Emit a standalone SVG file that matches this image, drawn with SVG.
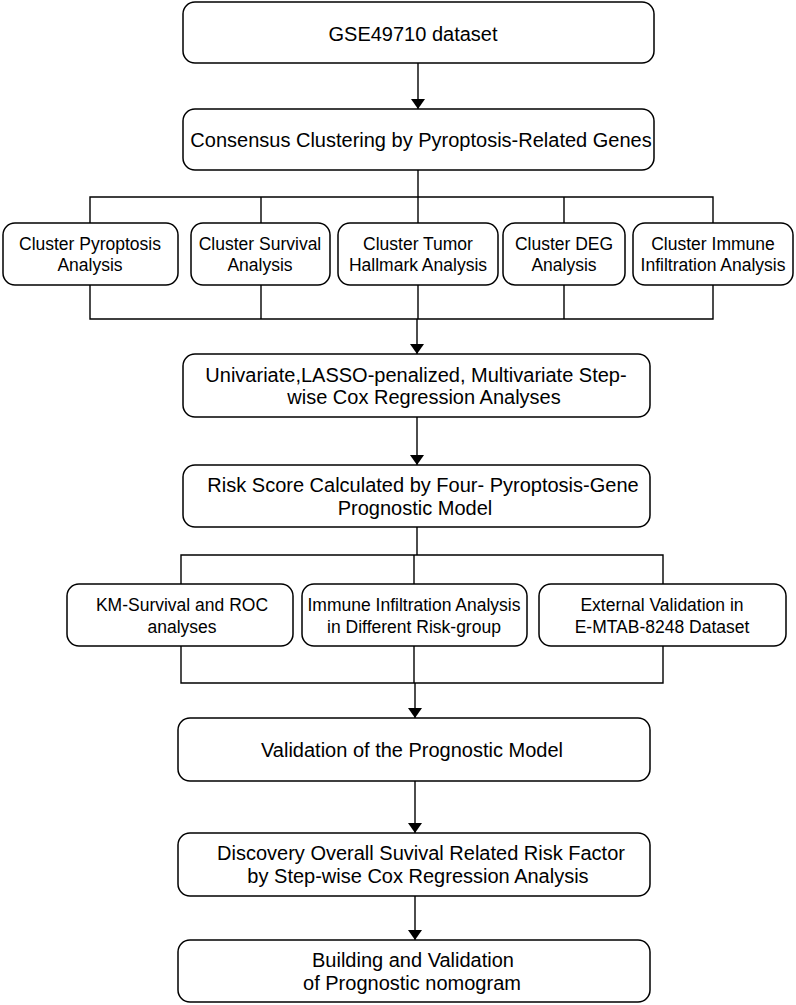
<svg xmlns="http://www.w3.org/2000/svg" width="796" height="1005" viewBox="0 0 796 1005">
<defs>
<marker id="arr" markerWidth="10" markerHeight="14" refX="10" refY="5" orient="auto" markerUnits="userSpaceOnUse" viewBox="0 0 10 10" preserveAspectRatio="none">
<path d="M0,0 L10,5 L0,10 Z" fill="#000"/>
</marker>
<style>
.box{fill:#fff;stroke:#000;stroke-width:1.5}
.t{font-family:"Liberation Sans",Arial,sans-serif;font-size:20px;fill:#000;text-anchor:middle}
.s{font-family:"Liberation Sans",Arial,sans-serif;font-size:17.5px;fill:#000;text-anchor:middle}
.c{fill:none;stroke:#000;stroke-width:1.4}
</style>
</defs>
<rect width="796" height="1005" fill="#fff"/>
<g id="connectors">
<line class="c" x1="418" y1="63" x2="418" y2="109" marker-end="url(#arr)"/>
<line class="c" x1="418" y1="170" x2="418" y2="223"/>
<polyline class="c" points="90,223 90,197 713,197 713,223"/>
<line class="c" x1="261" y1="197" x2="261" y2="223"/>
<line class="c" x1="564" y1="197" x2="564" y2="223"/>
<polyline class="c" points="90,285 90,319 713,319 713,285"/>
<line class="c" x1="261" y1="285" x2="261" y2="319"/>
<line class="c" x1="418" y1="285" x2="418" y2="319"/>
<line class="c" x1="564" y1="285" x2="564" y2="319"/>
<line class="c" x1="417" y1="319" x2="417" y2="354" marker-end="url(#arr)"/>
<line class="c" x1="417" y1="417" x2="417" y2="465" marker-end="url(#arr)"/>
<line class="c" x1="417" y1="527" x2="417" y2="555"/>
<polyline class="c" points="181,584 181,555 663,555 663,584"/>
<line class="c" x1="414" y1="555" x2="414" y2="584"/>
<polyline class="c" points="181,646 181,683 663,683 663,646"/>
<line class="c" x1="414" y1="646" x2="414" y2="683"/>
<line class="c" x1="415" y1="683" x2="415" y2="718" marker-end="url(#arr)"/>
<line class="c" x1="415" y1="781" x2="415" y2="833" marker-end="url(#arr)"/>
<line class="c" x1="415" y1="896" x2="415" y2="940" marker-end="url(#arr)"/>
</g>
<g id="n1"><rect class="box" x="183" y="2" width="471" height="61" rx="12"/><text class="t" x="413" y="41">GSE49710 dataset</text></g>
<g id="n2"><rect class="box" x="183" y="109" width="471" height="61" rx="12"/><text class="t" x="421" y="147">Consensus Clustering by Pyroptosis-Related Genes</text></g>
<g id="c1"><rect class="box" x="3" y="223" width="175" height="62" rx="12"/><text class="s" x="90" y="250">Cluster Pyroptosis</text><text class="s" x="90" y="271">Analysis</text></g>
<g id="c2"><rect class="box" x="191" y="223" width="139" height="62" rx="12"/><text class="s" x="260" y="250">Cluster Survival</text><text class="s" x="260" y="271">Analysis</text></g>
<g id="c3"><rect class="box" x="338" y="223" width="160" height="62" rx="12"/><text class="s" x="418" y="250">Cluster Tumor</text><text class="s" x="418" y="271">Hallmark Analysis</text></g>
<g id="c4"><rect class="box" x="503" y="223" width="122" height="62" rx="12"/><text class="s" x="564" y="250">Cluster DEG</text><text class="s" x="564" y="271">Analysis</text></g>
<g id="c5"><rect class="box" x="633" y="223" width="160" height="62" rx="12"/><text class="s" x="713" y="250">Cluster Immune</text><text class="s" x="713" y="271">Infiltration Analysis</text></g>
<g id="n3"><rect class="box" x="183" y="354" width="467" height="63" rx="12"/><text class="t" x="416" y="382">Univariate,LASSO-penalized, Multivariate Step-</text><text class="t" x="424" y="404">wise Cox Regression Analyses</text></g>
<g id="n4"><rect class="box" x="183" y="465" width="467" height="62" rx="12"/><text class="t" x="423" y="492">Risk Score Calculated by Four- Pyroptosis-Gene</text><text class="t" x="415" y="515">Prognostic Model</text></g>
<g id="k1"><rect class="box" x="67" y="584" width="226" height="62" rx="12"/><text class="s" x="182" y="611">KM-Survival and ROC</text><text class="s" x="182" y="633">analyses</text></g>
<g id="k2"><rect class="box" x="302" y="584" width="225" height="62" rx="12"/><text class="s" x="414" y="611">Immune Infiltration Analysis</text><text class="s" x="414" y="633">in Different Risk-group</text></g>
<g id="k3"><rect class="box" x="539" y="584" width="247" height="62" rx="12"/><text class="s" x="662" y="611">External Validation in</text><text class="s" x="662" y="633">E-MTAB-8248 Dataset</text></g>
<g id="n5"><rect class="box" x="178" y="718" width="472" height="63" rx="12"/><text class="t" x="412" y="757">Validation of the Prognostic Model</text></g>
<g id="n6"><rect class="box" x="178" y="833" width="472" height="63" rx="12"/><text class="t" x="421" y="860">Discovery Overall Suvival Related Risk Factor</text><text class="t" x="418" y="883">by Step-wise Cox Regression Analysis</text></g>
<g id="n7"><rect class="box" x="178" y="940" width="472" height="62" rx="12"/><text class="t" x="413" y="967">Building and Validation</text><text class="t" x="412" y="990">of Prognostic nomogram</text></g>
</svg>
